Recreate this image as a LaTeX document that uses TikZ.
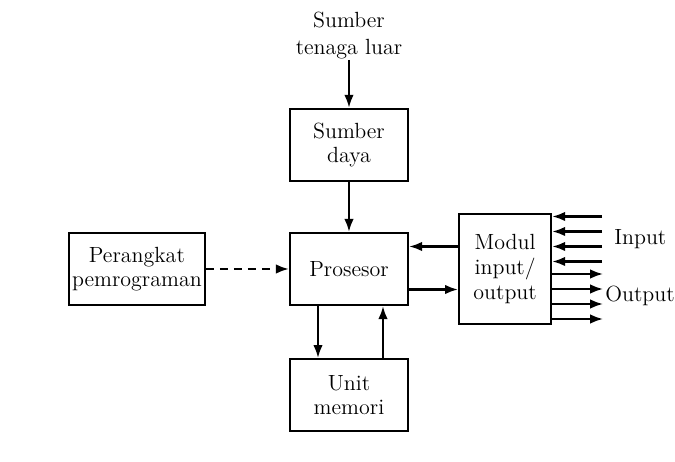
\documentclass[tikz,border=0pt]{standalone}
\usepackage{tikz}
\usetikzlibrary{arrows.meta, positioning}

\begin{document}
\begin{tikzpicture}[
  >={Latex[length=2.6mm, width=1.9mm]},
  block/.style={rectangle, draw, line width=1.2pt, minimum width=2.36cm, minimum height=1.44cm, align=center, font=\fontsize{12.5}{14}\selectfont},
  link/.style={->, line width=1.3pt}
]
  \useasboundingbox (-6.98,-3.86) rectangle (6.52,5.38);
  \node[block] (prosesor) at (0,0) {Prosesor};
  \node[block, above=1cm of prosesor] (daya) {Sumber\\daya};
  \node[block, below=1.04cm of prosesor] (memori) {Unit\\memori};
  \node[block, minimum width=2.72cm, inner xsep=1pt, left=1.66cm of prosesor] (perangkat) {Perangkat\\pemrograman};
  \node[block, minimum width=1.84cm, minimum height=2.2cm, right=0.98cm of prosesor] (modul) {Modul\\input/\\output};
  \node[above=0.96cm of daya, inner sep=0pt, align=center, font=\fontsize{12.5}{15.5}\selectfont] (luar) {Sumber\\tenaga luar};

  \draw[link] (luar) -- (daya);
  \draw[link] (daya) -- (prosesor);
  \draw[link, dash pattern=on 1.6mm off 1.2mm] (perangkat) -- (prosesor);
  \draw[link] ([xshift=-0.62cm]prosesor.south) -- ([xshift=-0.62cm]memori.north);
  \draw[link] ([xshift=0.68cm]memori.north) -- ([xshift=0.68cm]prosesor.south);
  \draw[link] ([yshift=0.45cm]modul.west) -- ([yshift=0.45cm]prosesor.east);
  \draw[link] ([yshift=-0.41cm]prosesor.east) -- ([yshift=-0.41cm]modul.west);

  % signal lines on the right of the I/O module
  \foreach \k/\y in {1/0.15, 2/0.45, 3/0.75, 4/1.05} {
    \coordinate (in\k) at ([shift={(1cm,\y cm)}]modul.east);
    \draw[link] (in\k) -- (in\k-|modul.east);
  }
  \foreach \k/\y in {1/-0.1, 2/-0.4, 3/-0.7, 4/-1.0} {
    \coordinate (out\k) at ([shift={(1.02cm,\y cm)}]modul.east);
    \draw[link] (out\k-|modul.east) -- (out\k);
  }
  \node[anchor=west, font=\fontsize{12.5}{14}\selectfont] (input) at ([shift={(1.12cm,0.6cm)}]modul.east) {Input};
  \node[anchor=west, font=\fontsize{12.5}{14}\selectfont] (output) at ([shift={(0.94cm,-0.54cm)}]modul.east) {Output};
\end{tikzpicture}
\end{document}
